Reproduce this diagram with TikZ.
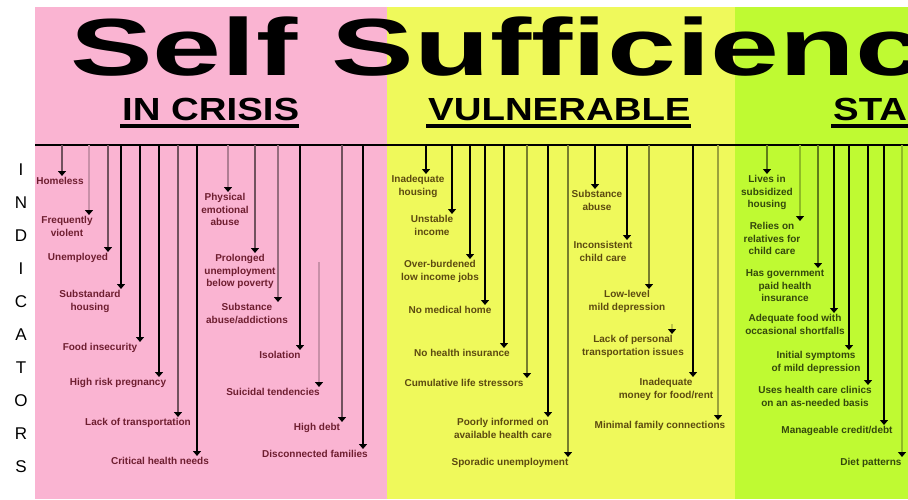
\documentclass[tikz,border=0pt]{standalone}
\usepackage{graphicx}
\usepackage{fontspec}
\setmainfont{Liberation Sans}
\usetikzlibrary{arrows.meta}
\definecolor{crisis}{HTML}{FAB4D2}
\definecolor{vulner}{HTML}{EFF95B}
\definecolor{stable}{HTML}{BFFA32}
\definecolor{crisisink}{HTML}{6E1E30}
\definecolor{vulnerink}{HTML}{5C4A10}
\definecolor{stableink}{HTML}{34480C}
\begin{document}
\begin{tikzpicture}[x=1pt,y=-1pt,
  lbl/.style={font=\fontsize{10}{12.5}\selectfont\bfseries,align=center,anchor=north,inner sep=1.5pt},
  lead/.style={line width=1.8pt,-{Triangle[length=5pt,width=8pt,color=black]}},
  hdtext/.style={font=\fontsize{32}{32}\selectfont\bfseries,anchor=base west,inner sep=0pt},
  uline/.style={line width=4pt},
  indletter/.style={font=\fontsize{17}{17}\selectfont,inner sep=0pt}]
\useasboundingbox (0,0) rectangle (908,499);
\clip (0,0) rectangle (908,499);
\fill[white] (0,0) rectangle (908,499);
\fill[crisis] (35,7) rectangle (387,499);
\fill[vulner] (387,7) rectangle (735,499);
\fill[stable] (735,7) rectangle (908,499);
% title and column heads
\node[anchor=base west,inner sep=0pt] (title) at (70,75)
  {\scalebox{1.53}[1]{\fontsize{81}{81}\selectfont\bfseries Self Sufficiency}};
\node[hdtext] (crisishd) at (122,120) {\scalebox{1.2}[1]{IN CRISIS}};
\node[hdtext] (vulnerhd) at (428,120) {\scalebox{1.2}[1]{VULNERABLE}};
\node[hdtext] (stablehd) at (833,120) {\scalebox{1.2}[1]{STABLE}};
\foreach \h in {crisishd,vulnerhd,stablehd} {
  \draw[uline] ([xshift=-2pt,yshift=-6pt]\h.base west) -- ([yshift=-6pt]\h.base east);
}
\coordinate (bar) at (35,145);
\coordinate (barend) at (908,145);
\draw[line width=2pt] (bar) -- (barend);
\foreach \l [count=\k] in {I,N,D,I,C,A,T,O,R,S} {
  \node[indletter] (ind\k) at (21,{170+33*(\k-1)}) {\l};
}
% in crisis
\node[lbl,crisisink] (c1) at (60,176) {Homeless};
\node[lbl,crisisink] (c2) at (67,215) {Frequently\\violent};
\node[lbl,crisisink] (c3) at (78,252) {Unemployed};
\node[lbl,crisisink] (c4) at (90,289) {Substandard\\housing};
\node[lbl,crisisink] (c5) at (100,342) {Food insecurity};
\node[lbl,crisisink] (c6) at (118,377) {High risk pregnancy};
\node[lbl,crisisink] (c7) at (138,417) {Lack of transportation};
\node[lbl,crisisink] (c8) at (160,456) {Critical health needs};
\node[lbl,crisisink] (c9) at (225,192) {Physical\\emotional\\abuse};
\node[lbl,crisisink] (c10) at (240,253) {Prolonged\\unemployment\\below poverty};
\node[lbl,crisisink] (c11) at (247,302) {Substance\\abuse/addictions};
\node[lbl,crisisink] (c12) at (280,350) {Isolation};
\node[lbl,crisisink] (c13) at (273,387) {Suicidal tendencies};
\node[lbl,crisisink] (c14) at (317,422) {High debt};
\node[lbl,crisisink] (c15) at (315,449) {Disconnected families};
% vulnerable
\node[lbl,vulnerink] (v1) at (418,174) {Inadequate\\housing};
\node[lbl,vulnerink] (v2) at (432,214) {Unstable\\income};
\node[lbl,vulnerink] (v3) at (440,259) {Over-burdened\\low income jobs};
\node[lbl,vulnerink] (v4) at (450,305) {No medical home};
\node[lbl,vulnerink] (v5) at (462,348) {No health insurance};
\node[lbl,vulnerink] (v6) at (464,378) {Cumulative life stressors};
\node[lbl,vulnerink] (v7) at (503,417) {Poorly informed on\\available health care};
\node[lbl,vulnerink] (v8) at (510,457) {Sporadic unemployment};
\node[lbl,vulnerink] (v9) at (597,189) {Substance\\abuse};
\node[lbl,vulnerink] (v10) at (603,240) {Inconsistent\\child care};
\node[lbl,vulnerink] (v11) at (627,289) {Low-level\\mild depression};
\node[lbl,vulnerink] (v12) at (633,334) {Lack of personal\\transportation issues};
\node[lbl,vulnerink] (v13) at (666,377) {Inadequate\\money for food/rent};
\node[lbl,vulnerink] (v14) at (660,420) {Minimal family connections};
% stable
\node[lbl,stableink] (s1) at (767,174) {Lives in\\subsidized\\housing};
\node[lbl,stableink] (s2) at (772,221) {Relies on\\relatives for\\child care};
\node[lbl,stableink] (s3) at (785,268) {Has government\\paid health\\insurance};
\node[lbl,stableink] (s4) at (795,313) {Adequate food with\\occasional shortfalls};
\node[lbl,stableink] (s5) at (816,350) {Initial symptoms\\of mild depression};
\node[lbl,stableink] (s6) at (815,385) {Uses health care clinics\\on an as-needed basis};
\node[lbl,stableink] (s7) at (837,425) {Manageable credit/debt};
\node[lbl,stableink] (s8) at (871,457) {Diet patterns};
% leads from the bar
\foreach \n/\x/\c in {c1/62/crisis!45!black,c2/89/crisis!80!black,c3/108/crisis!45!black,
    c4/121/black,c5/140/black,c6/159/black,c7/178/crisis!45!black,c8/197/black,
    c9/228/crisis!70!black,c10/255/crisis!45!black,c11/278/crisis!60!black,
    c12/300/black,c14/342/crisis!45!black,c15/363/black,
    v1/426/black,v2/452/black,v3/470/black,v4/485/black,v5/504/black,
    v6/527/vulner!50!black,v7/548/black,v8/568/vulner!50!black,v9/595/black,
    v10/627/black,v11/649/vulner!50!black,v13/693/black,v14/718/vulner!65!black,
    s1/767/stable!50!black,s2/800/stable!75!black,s3/818/stable!50!black,
    s4/834/black,s5/849/black,s6/868/black,s7/884/black,s8/902/stable!75!black} {
  \draw[lead,draw=\c] (bar -| \x,0) -- (\n.north -| \x,0);
}
\coordinate (c13top) at (319,262);
\coordinate (v12top) at (672,324);
\draw[lead,draw=crisis!80!black] (c13top) -- (c13.north -| c13top);
\draw[lead,draw=vulner!80!black] (v12top) -- (v12.north -| v12top);
\end{tikzpicture}
\end{document}
